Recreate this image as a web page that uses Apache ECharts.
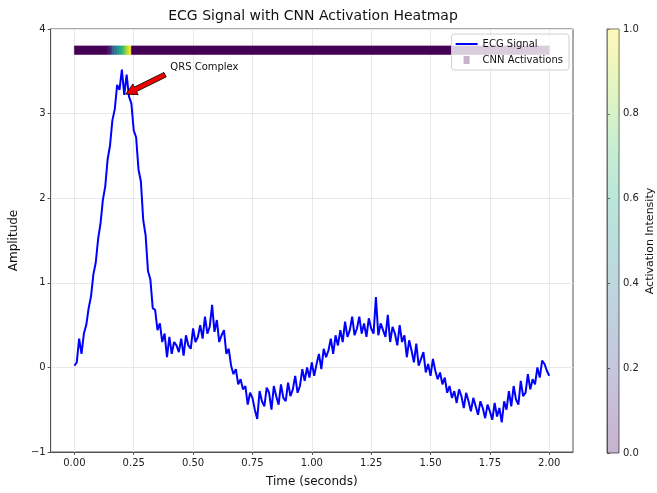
<!DOCTYPE html>
<html>
<head>
<meta charset="utf-8">
<script src="https://cdn.jsdelivr.net/npm/echarts@6/dist/echarts.min.js"></script>
<style>
html,body{margin:0;padding:0;background:#fff;}
#chart{width:657px;height:493px;}
</style>
</head>
<body>
<div id="chart"></div>
<script>
// ---- data ----
const sampleStep = 0.01;           // seconds between ECG samples (t = 0 .. 2.00)
const ecgValues = [
  0.02, 0.06, 0.34, 0.16, 0.40, 0.50, 0.70, 0.84, 1.10, 1.24,
  1.52, 1.70, 1.98, 2.14, 2.46, 2.62, 2.92, 3.05, 3.34, 3.28,
  3.52, 3.22, 3.46, 3.20, 3.12, 2.80, 2.72, 2.34, 2.20, 1.74,
  1.56, 1.14, 1.04, 0.70, 0.68, 0.44, 0.52, 0.30, 0.40, 0.12,
  0.36, 0.16, 0.30, 0.26, 0.18, 0.34, 0.14, 0.38, 0.26, 0.22,
  0.46, 0.30, 0.36, 0.50, 0.34, 0.60, 0.40, 0.48, 0.74, 0.42,
  0.56, 0.30, 0.38, 0.44, 0.16, 0.22, 0.02, -0.08, -0.02, -0.20,
  -0.14, -0.26, -0.22, -0.44, -0.30, -0.36, -0.50, -0.61, -0.28, -0.40,
  -0.46, -0.24, -0.30, -0.50, -0.22, -0.34, -0.44, -0.20, -0.36, -0.40,
  -0.18, -0.34, -0.26, -0.10, -0.30, -0.22, -0.02, -0.16, 0.00, -0.12,
  0.06, -0.10, 0.04, 0.16, -0.02, 0.22, 0.12, 0.20, 0.34, 0.16,
  0.38, 0.26, 0.44, 0.30, 0.54, 0.36, 0.44, 0.60, 0.38, 0.46,
  0.60, 0.40, 0.52, 0.36, 0.58, 0.46, 0.40, 0.83, 0.38, 0.52,
  0.44, 0.36, 0.62, 0.30, 0.48, 0.40, 0.26, 0.50, 0.30, 0.38,
  0.12, 0.32, 0.20, 0.06, 0.28, 0.02, 0.10, 0.18, -0.06, 0.04,
  -0.10, 0.10, -0.04, -0.14, -0.06, -0.20, -0.12, -0.30, -0.22, -0.36,
  -0.28, -0.42, -0.26, -0.34, -0.48, -0.30, -0.40, -0.52, -0.36, -0.46,
  -0.56, -0.40, -0.48, -0.60, -0.44, -0.52, -0.62, -0.42, -0.58, -0.48,
  -0.65, -0.40, -0.50, -0.28, -0.46, -0.22, -0.38, -0.44, -0.16, -0.34,
  -0.30, -0.08, -0.26, -0.14, -0.20, 0.00, -0.12, 0.08, 0.04, -0.04,
  -0.10
];
// CNN activation strip: segment edges (seconds) and activation per segment
const activationEdges  = [0, 0.14, 0.15, 0.16, 0.17, 0.18, 0.19, 0.20, 0.21, 0.22, 0.23, 0.24, 2.0];
const activationValues = [0, 0.05, 0.15, 0.30, 0.42, 0.52, 0.60, 0.68, 0.78, 0.90, 1.00, 0];
const stripBand = [3.7, 3.8];      // amplitude band where the activation strip sits
const xTicks = [0, 0.25, 0.5, 0.75, 1.0, 1.25, 1.5, 1.75, 2.0];
// annotation: arrow tip (t, amp), arrow tail (t, amp), text anchor (t, amp)
const annotation = { label: 'QRS Complex', tip: [0.216, 3.23], tail: [0.382, 3.46], text: [0.404, 3.55] };

// ---- styling ----
const viridis = ['#440154','#482475','#414487','#355f8d','#2a788e','#21918c','#22a884','#44bf70','#7ad151','#bddf26','#fde725'];
function fade(hex, a){
  const r=parseInt(hex.slice(1,3),16), g=parseInt(hex.slice(3,5),16), b=parseInt(hex.slice(5,7),16);
  return 'rgba('+r+','+g+','+b+','+a+')';
}
const FONT = 'DejaVu Sans';

const ecgData = ecgValues.map((v,i)=>[+(i*sampleStep).toFixed(2), v]);
const stripData = activationValues.map((v,i)=>[activationEdges[i], activationEdges[i+1], v]);

const chart = echarts.init(document.getElementById('chart'), null, {renderer:'canvas'});
const option = {
  animation:false,
  backgroundColor:'#fff',
  textStyle:{fontFamily:FONT},
  title:{
    text:'ECG Signal with CNN Activation Heatmap',
    left:308, top:4, textAlign:'center',
    textStyle:{fontFamily:FONT,fontSize:14,fontWeight:'normal',color:'#111'}
  },
  legend:{
    right:88, top:34, orient:'vertical',
    backgroundColor:'rgba(255,255,255,0.8)', borderColor:'#d0d0d0', borderWidth:1, borderRadius:3,
    padding:[5,6,5,4], itemGap:6, itemWidth:22, itemHeight:8,
    textStyle:{fontFamily:FONT,fontSize:10,color:'#111'},
    data:[
      {name:'ECG Signal', icon:'path://M0,0h22v2h-22z', itemStyle:{color:'#0000ff'}},
      {name:'CNN Activations', icon:'path://M0,0h6v8h-6z', itemStyle:{color:fade('#440154',0.3)}}
    ]
  },
  grid:[
    {left:45, top:29, width:528, height:424, show:true, borderColor:'#555', borderWidth:1},
    {left:607, top:29, width:17, height:424, show:true, borderColor:'#666', borderWidth:1}
  ],
  xAxis:[
    {
      type:'value', gridIndex:0, min:-0.1, max:2.1,
      name:'Time (seconds)', nameLocation:'middle', nameGap:24,
      nameTextStyle:{fontFamily:FONT,fontSize:12,color:'#111'},
      axisLine:{show:true,onZero:false,lineStyle:{color:'#555'}},
      axisTick:{show:true,length:3,customValues:xTicks,lineStyle:{color:'#555'}},
      axisLabel:{customValues:xTicks,fontFamily:FONT,fontSize:10,color:'#222',margin:6,
        formatter:v=>v.toFixed(2)},
      splitLine:{show:false}
    },
    {type:'value', gridIndex:1, min:0, max:1, show:false}
  ],
  yAxis:[
    {
      type:'value', gridIndex:0, min:-1, max:4, interval:1,
      name:'Amplitude', nameLocation:'middle', nameGap:27,
      nameTextStyle:{fontFamily:FONT,fontSize:12,color:'#111'},
      axisLine:{show:true,onZero:false,lineStyle:{color:'#555'}},
      axisTick:{show:true,length:3,lineStyle:{color:'#555'}},
      axisLabel:{fontFamily:FONT,fontSize:10,color:'#222',margin:5,
        formatter:v=> v<0 ? '\u2212'+Math.abs(v) : String(v)},
      splitLine:{show:true,lineStyle:{color:'#e8e8e8',width:1}}
    },
    {
      type:'value', gridIndex:1, min:0, max:1, interval:0.2, position:'right',
      name:'Activation Intensity', nameLocation:'middle', nameGap:26, nameRotate:90,
      nameTextStyle:{fontFamily:FONT,fontSize:11,color:'#111'},
      axisLine:{show:true,lineStyle:{color:'#666'}},
      axisTick:{show:true,length:3,lineStyle:{color:'#555'}},
      axisLabel:{fontFamily:FONT,fontSize:10,color:'#222',margin:4,formatter:v=>v.toFixed(1)},
      splitLine:{show:false}
    }
  ],
  visualMap:[
    {type:'continuous', show:false, min:0, max:1, dimension:2, seriesIndex:1, inRange:{color:viridis}}
  ],
  series:[
    {
      name:'ECG Signal', type:'line', xAxisIndex:0, yAxisIndex:0,
      data:ecgData, symbol:'none', z:5,
      lineStyle:{color:'#0000ff',width:2}, itemStyle:{color:'#0000ff'},
      markLine:{
        silent:true, symbol:'none', label:{show:false}, z:1,
        lineStyle:{color:'#e8e8e8',width:1,type:'solid'},
        data:xTicks.map(t=>({xAxis:t}))
      }
    },
    {
      name:'CNN Activations', type:'custom', xAxisIndex:0, yAxisIndex:0, z:3,
      data:stripData,
      renderItem:function(params, api){
        const p0 = api.coord([api.value(0), stripBand[1]]);
        const p1 = api.coord([api.value(1), stripBand[0]]);
        const c = api.visual('color');
        return {type:'rect', shape:{x:p0[0], y:p0[1], width:p1[0]-p0[0], height:p1[1]-p0[1]},
          style:{fill:c, stroke:c, lineWidth:0.6}};
      }
    },
    {
      name:'colorbar', type:'custom', xAxisIndex:1, yAxisIndex:1, z:2,
      data:[[0,0,1,1]],
      renderItem:function(params, api){
        const p0 = api.coord([0,1]);
        const p1 = api.coord([1,0]);
        const stops = viridis.map((c,i)=>({offset:i/(viridis.length-1), color:fade(c,0.3)}));
        return {type:'rect', shape:{x:p0[0], y:p0[1], width:p1[0]-p0[0], height:p1[1]-p0[1]},
          style:{fill:new echarts.graphic.LinearGradient(0,1,0,0,stops)}};
      }
    },
    {
      name:'annotation', type:'custom', xAxisIndex:0, yAxisIndex:0, z:6,
      data:[[annotation.tip[0], annotation.tip[1], annotation.tail[0], annotation.tail[1], annotation.text[0], annotation.text[1]]],
      renderItem:function(params, api){
        const tip = api.coord([api.value(0), api.value(1)]);
        const tail = api.coord([api.value(2), api.value(3)]);
        const tx = api.coord([api.value(4), api.value(5)]);
        let dx = tip[0]-tail[0], dy = tip[1]-tail[1];
        const L = Math.sqrt(dx*dx+dy*dy); dx/=L; dy/=L;
        const nx = -dy, ny = dx;
        const hl = 11, hw = 6, sw = 2.5;
        const bx = tip[0]-dx*hl, by = tip[1]-dy*hl;
        const pts = [
          [tail[0]+nx*sw, tail[1]+ny*sw],
          [bx+nx*sw, by+ny*sw],
          [bx+nx*hw, by+ny*hw],
          [tip[0], tip[1]],
          [bx-nx*hw, by-ny*hw],
          [bx-nx*sw, by-ny*sw],
          [tail[0]-nx*sw, tail[1]-ny*sw]
        ];
        return {type:'group', children:[
          {type:'polygon', shape:{points:pts}, style:{fill:'#ee0000', stroke:'#000', lineWidth:0.8}},
          {type:'text', x:tx[0], y:tx[1], style:{text:annotation.label, fill:'#111', font:'10px "DejaVu Sans"', align:'left', verticalAlign:'middle'}}
        ]};
      }
    }
  ]
};
chart.setOption(option);
</script>
</body>
</html>
